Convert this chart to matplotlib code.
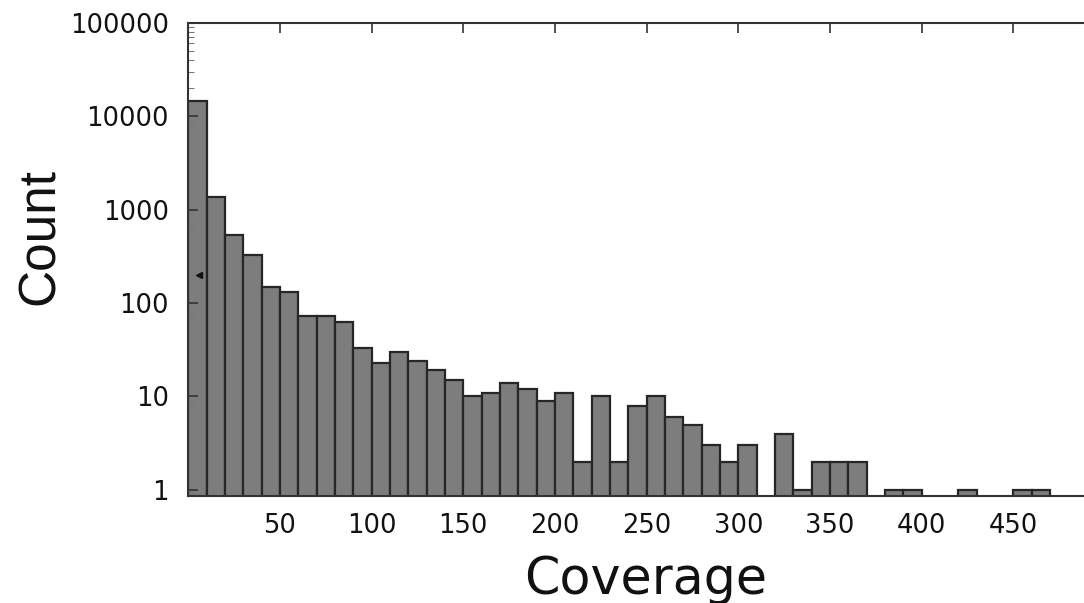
import matplotlib
matplotlib.use("Agg")
import matplotlib.pyplot as plt
import numpy as np

# histogram of coverage, bins of width 10 starting at 0
bin_left = np.arange(0, 470, 10)
counts = [14400, 1350, 530, 330, 150, 130, 73, 73, 62, 33,
          23, 30, 24, 19, 15, 10, 11, 14, 12, 9,
          11, 2, 10, 2, 8, 10, 6, 5, 3, 2,
          3, 0, 4, 1, 2, 2, 2, 0, 1, 1,
          0, 0, 1, 0, 0, 1, 1]
xticks = [50, 100, 150, 200, 250, 300, 350, 400, 450]
yticks = [1, 10, 100, 1000, 10000, 100000]
ytick_labels = ["1", "10", "100", "1000", "10000", "100000"]
# small dark mark sitting on the first bar
mark_x = [6]
mark_y = [200]

fig = plt.figure(figsize=(10.84, 6.03), dpi=100)
ax = fig.add_axes([0.1737, 0.1774, 0.8263, 0.785])

counts = np.array(counts, dtype=float)
keep = counts > 0
ax.bar(bin_left[keep], counts[keep], width=10, align="edge",
       color="#7d7d7d", edgecolor="#262626", linewidth=1.6, zorder=1)
ax.plot(mark_x, mark_y, marker="<", color="#111111", markersize=5, linestyle="none", zorder=3)

ax.set_yscale("log")
ax.set_ylim(0.86, 100000)
ax.set_xlim(0, 488.6)

ax.set_xticks(xticks)
ax.set_xticklabels([str(t) for t in xticks], fontsize=18.5, family="DejaVu Sans", color="#111111")
ax.set_yticks(yticks)
ax.set_yticklabels(ytick_labels, fontsize=18.5, family="DejaVu Sans", color="#111111")

ax.tick_params(axis="x", which="both", direction="in", bottom=False, top=True,
               length=7, width=1.2, pad=12, color="#333333")
ax.tick_params(axis="y", which="major", direction="in", left=True, right=False,
               length=7, width=1.2, pad=14, color="#333333")
ax.tick_params(axis="y", which="minor", direction="in", left=True, right=False,
               length=4, width=0.8, color="#777777")

for side in ["left", "top", "bottom"]:
    ax.spines[side].set_linewidth(1.5)
    ax.spines[side].set_color("#333333")
ax.spines["right"].set_visible(False)

ax.set_xlabel("Coverage", fontsize=36.5, family="DejaVu Sans", color="#111111")
ax.xaxis.set_label_coords(0.511, -0.207)
ax.xaxis.label.set_verticalalignment("baseline")
ax.set_ylabel("Count", fontsize=37, family="Liberation Sans", color="#111111")
ax.yaxis.set_label_coords(-0.1656, 0.549)
ax.yaxis.label.set_verticalalignment("center")

fig.savefig("out.png", dpi=100)
